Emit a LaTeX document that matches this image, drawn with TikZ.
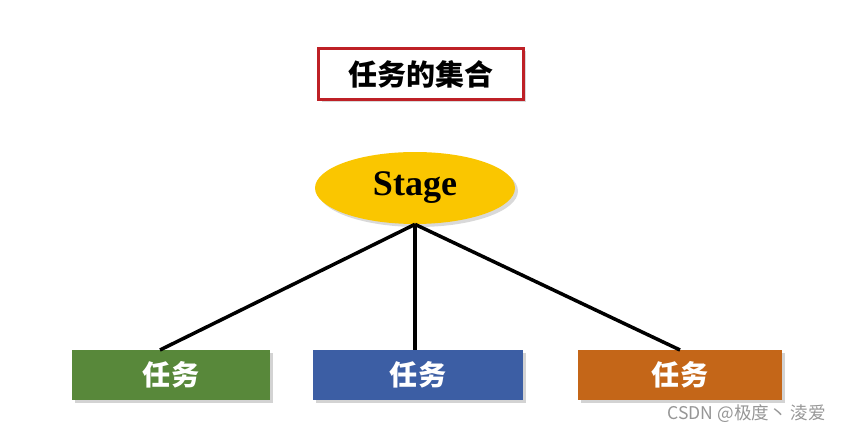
\documentclass[tikz,border=0pt]{standalone}
\usepackage{fontspec}
\setmainfont{Liberation Serif}
\newfontfamily\cjk{Noto Sans CJK SC}
\usetikzlibrary{shapes.geometric,shadows}

\definecolor{framered}{RGB}{190,32,38}
\definecolor{stageyellow}{RGB}{250,198,0}
\definecolor{taskgreen}{RGB}{88,136,58}
\definecolor{taskblue}{RGB}{60,94,164}
\definecolor{taskorange}{RGB}{196,102,24}
\definecolor{markgray}{RGB}{150,150,150}

\tikzset{
  taskbox/.style={rectangle, minimum width=3.96cm, minimum height=1cm,
    text=white, font=\cjk\fontsize{16}{18}\selectfont\bfseries,
    drop shadow={shadow xshift=0.06cm, shadow yshift=-0.06cm, opacity=0.35}},
  link/.style={line width=2pt, black}
}

\begin{document}
\begin{tikzpicture}[x=0.02cm, y=-0.02cm]
  \useasboundingbox (0, 0) rectangle (846, 438);

  % Title
  \node[draw=framered, line width=1.6pt, fill=white, minimum width=4.1cm, minimum height=1.02cm,
    font=\cjk\fontsize{16.5}{18}\selectfont\bfseries,
    drop shadow={shadow xshift=0.06cm, shadow yshift=-0.06cm, opacity=0.3}]
    (title) at (421, 74) {任务的集合};

  % Stage
  \node[ellipse, fill=stageyellow, minimum width=4cm, minimum height=1.44cm, inner sep=0pt,
    font=\fontsize{20.5}{22}\selectfont\bfseries,
    drop shadow={shadow xshift=0.06cm, shadow yshift=-0.06cm, opacity=0.3}]
    (stage) at (415, 188) {Stage};

  % Tasks
  \node[taskbox, fill=taskgreen] (task1) at (171, 375) {任务};
  \node[taskbox, fill=taskblue, minimum width=4.2cm] (task2) at (418, 375) {任务};
  \node[taskbox, fill=taskorange, minimum width=4.1cm] (task3) at (680, 375) {任务};

  % Links
  \coordinate (top1) at (160, 350);
  \coordinate (top2) at (415, 350);
  \coordinate (top3) at (680, 350);
  \draw[link] (stage.south) -- (top1);
  \draw[link] (stage.south) -- (top2);
  \draw[link] (stage.south) -- (top3);

  % Watermark
  \node[anchor=east, text=markgray, font=\cjk\fontsize{10}{12}\selectfont] (mark) at (832, 414)
    {CSDN @极度丶 淩爱};
\end{tikzpicture}
\end{document}
